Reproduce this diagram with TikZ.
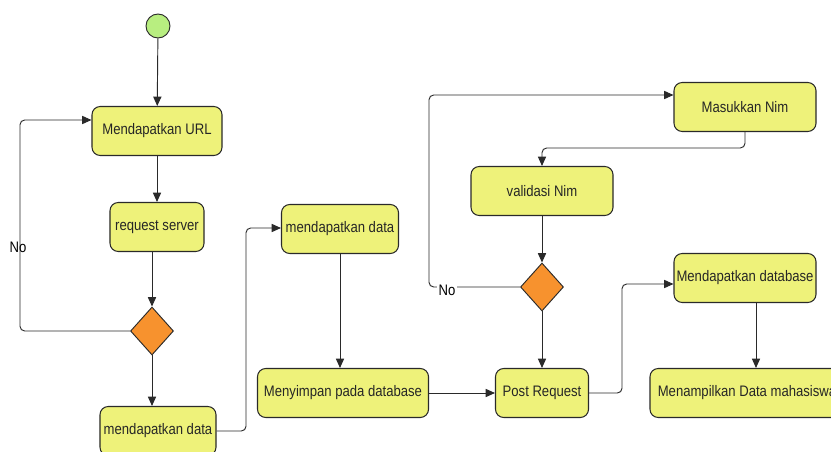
\documentclass[tikz,border=0pt]{standalone}
\usepackage{fontspec}
\setmainfont{Liberation Sans}[FakeStretch=0.86]
\usetikzlibrary{shapes.geometric,arrows.meta}
\definecolor{actfill}{HTML}{EEF27A}
\definecolor{startfill}{HTML}{B8EE80}
\definecolor{decfill}{HTML}{F7922E}
\definecolor{linegray}{HTML}{2A2A2A}

\begin{document}
\begin{tikzpicture}[x=0.03cm,y=-0.03cm,
    font=\fontsize{13}{15}\selectfont,
    act/.style={draw=linegray,line width=0.9pt,fill=actfill,rounded corners=7pt,
                minimum height=1.47cm,inner sep=0pt,text=black!85},
    dec/.style={draw=linegray,line width=0.8pt,fill=decfill,diamond,inner sep=0pt,
                minimum width=1.29cm,minimum height=1.44cm},
    flow/.style={draw=linegray,line width=0.8pt,rounded corners=4pt,
                 -{Triangle[length=8pt,width=7pt]}}]
    \useasboundingbox (0,0) rectangle (831,452);
    \clip (0,0) rectangle (831,452);
    \fill [white] (0,0) rectangle (831,452);
    % nodes
    \node [circle,draw=linegray,line width=0.8pt,fill=startfill,minimum width=0.66cm,
           minimum height=0.72cm,inner sep=0pt] (start) at (158,26) {};
    \node [act,minimum width=3.9cm] (url) at (157,131) {Mendapatkan URL};
    \node [act,minimum width=2.82cm] (server) at (157,227) {request server};
    \node [dec] (dA) at (152,331) {};
    \node [act,minimum width=3.48cm] (dataA) at (158,431) {mendapatkan data};
    \node [act,minimum width=3.51cm] (dataB) at (340,229) {mendapatkan data};
    \node [act,minimum width=5.13cm] (simpan) at (343,393) {Menyimpan pada database};
    \node [act,minimum width=2.79cm] (post) at (542,393) {Post Request};
    \node [dec] (dB) at (542,287) {};
    \node [act,minimum width=4.26cm] (valid) at (542,191) {validasi Nim};
    \node [act,minimum width=4.26cm] (masuk) at (745,107) {Masukkan Nim};
    \node [act,minimum width=4.26cm] (mdb) at (745,278) {Mendapatkan database};
    \node [act,minimum width=5.82cm] (tampil) at (747,393) {Menampilkan Data mahasiswa};
    % bend points
    \coordinate (noA) at (20,120);
    \coordinate (jA) at (246,228);
    \coordinate (jB) at (622,284);
    \coordinate (jC) at (640,148);
    \coordinate (jD) at (756,340);
    \coordinate (noB) at (429,95);
    % connectors
    \draw [flow] (start) -- (url);
    \draw [flow] (url) -- (server);
    \draw [flow] (server.south -| dA.north) -- (dA.north);
    \draw [flow] (dA.south) -- (dA.south |- dataA.north);
    \draw [flow] (dA.west) -| (noA) -- (noA -| url.west);
    \draw [flow] (dataA.east) -| (jA) -- (jA -| dataB.west);
    \draw [flow] (dataB.south) -- (dataB.south |- simpan.north);
    \draw [flow] (simpan) -- (post);
    \draw [flow] (post.east) -| (jB) -- (jB -| mdb.west);
    \draw [flow] (mdb.south -| jD) -- (tampil.north -| jD);
    \draw [flow] (masuk.south) |- (jC) -| (valid.north);
    \draw [flow] (valid) -- (dB);
    \draw [flow] (dB) -- (post);
    \draw [flow] (dB.west) -| (noB) -- (noB -| masuk.west);
    % labels
    \node [inner sep=1pt] (noTextA) at (18,247) {No};
    \node [fill=white,inner sep=1pt] (noTextB) at (447,290) {No};
\end{tikzpicture}
\end{document}
